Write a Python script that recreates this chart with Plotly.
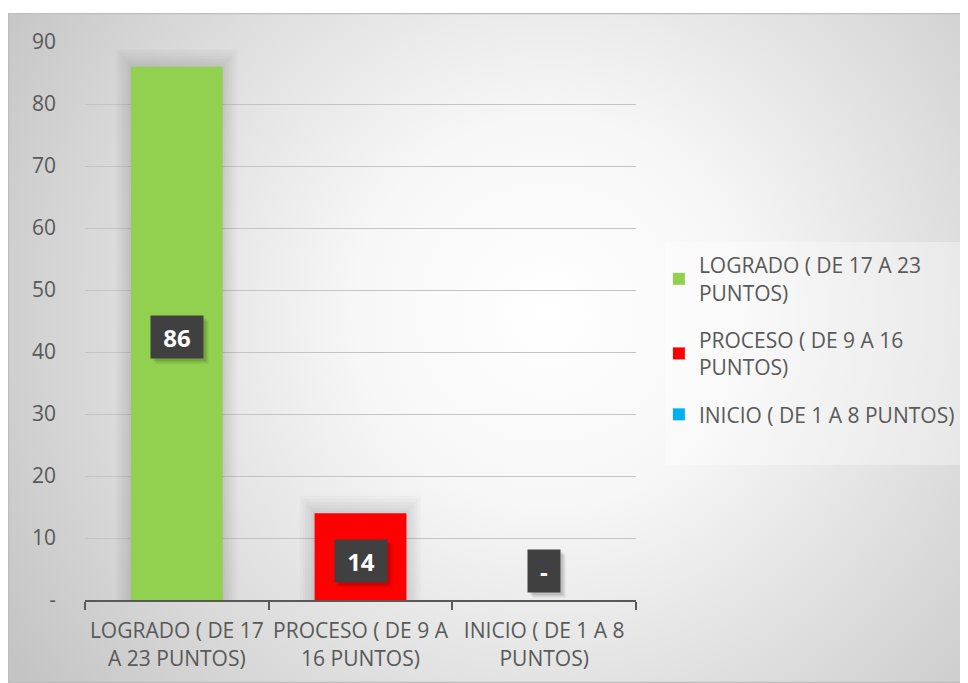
import base64
import plotly.graph_objects as go

# Datos del grafico
categorias = ['LOGRADO ( DE 17<br>A 23 PUNTOS)', 'PROCESO ( DE 9 A<br>16 PUNTOS)', 'INICIO ( DE 1 A 8<br>PUNTOS)']
leyenda = ['LOGRADO ( DE 17 A 23<br>PUNTOS)', 'PROCESO ( DE 9 A 16<br>PUNTOS)', 'INICIO ( DE 1 A 8 PUNTOS)']
valores = [86, 14, 0]
colores = ['#92D050', '#FF0000', '#00B0F0']
y_ticks = [0, 10, 20, 30, 40, 50, 60, 70, 80, 90]
y_ticktext = ['-', '10', '20', '30', '40', '50', '60', '70', '80', '90']

FONT = 'Open Sans'
GRIS = '#595959'

# Fondo con degradado radial (SVG embebido)
svg = (
    '<svg xmlns="http://www.w3.org/2000/svg" width="960" height="670" '
    'viewBox="0 0 960 670" preserveAspectRatio="none">'
    '<defs><radialGradient id="g" gradientUnits="userSpaceOnUse" cx="540" cy="300" r="640">'
    '<stop offset="0" stop-color="#ffffff"/>'
    '<stop offset="0.3" stop-color="#f7f7f7"/>'
    '<stop offset="1" stop-color="#c4c4c4"/>'
    '</radialGradient></defs>'
    '<rect x="0" y="0" width="960" height="670" fill="url(#g)"/>'
    '<rect x="0.5" y="0.5" width="959" height="669" fill="none" stroke="#bdbdbd" stroke-width="1.5"/>'
    '</svg>'
)
svg_uri = 'data:image/svg+xml;base64,' + base64.b64encode(svg.encode()).decode()

fig = go.Figure()

# Sombra suave detras de las barras
capas = [(0.66, 2.8), (0.63, 2.3), (0.60, 1.8), (0.57, 1.3), (0.54, 0.8), (0.52, 0.4)]
for cat, val in zip(categorias, valores):
    if val > 0:
        for w, extra in capas:
            fig.add_trace(go.Bar(
                x=[cat], y=[val + extra], width=w,
                marker=dict(color='rgba(0,0,0,0.02)', line=dict(width=0)),
                showlegend=False, hoverinfo='skip'
            ))

# Barras
for i, (cat, nom, val, col) in enumerate(zip(categorias, leyenda, valores, colores)):
    fig.add_trace(go.Bar(
        x=[cat], y=[val], name=nom, width=0.5, legendgroup=f'g{i}',
        marker=dict(color=col, line=dict(width=0))
    ))

# Etiquetas de datos
for cat, val in zip(categorias, valores):
    txt = '-' if val == 0 else str(val)
    ancho = 30 if val == 0 else 50
    if val == 0:
        pos = dict(y=0, yanchor='bottom', yshift=7)
    else:
        pos = dict(y=val / 2, yanchor='middle', yshift=-4)
    # sombra de la etiqueta
    for dx, a in [(5, 0.08), (3, 0.12)]:
        fig.add_annotation(
            x=cat, text=' ', showarrow=False, width=ancho, height=40,
            bgcolor=f'rgba(0,0,0,{a})', xshift=dx,
            **{**pos, 'yshift': pos['yshift'] - dx}
        )
    fig.add_annotation(
        x=cat, text=f'<b>{txt}</b>', showarrow=False, width=ancho, height=40,
        bgcolor='#404040', font=dict(family=FONT, size=24, color='white'), **pos
    )

# Fondo del cuadro de leyenda
fig.add_shape(type='rect', xref='paper', yref='paper',
              x0=1.0526, x1=1.597, y0=0.2419, y1=0.6416,
              fillcolor='rgba(255,255,255,0.35)', line=dict(width=0), layer='below')

fig.add_layout_image(dict(
    source=svg_uri, xref='paper', yref='paper',
    x=-0.13975, y=1.052, sizex=1.7423, sizey=1.2007,
    xanchor='left', yanchor='top', sizing='stretch', layer='below'
))

fig.update_layout(
    width=960, height=675,
    margin=dict(l=77, r=332, t=34, b=83),
    paper_bgcolor='white', plot_bgcolor='rgba(0,0,0,0)',
    barmode='overlay', bargap=0.5,
    font=dict(family=FONT, size=21, color=GRIS),
    showlegend=True,
    legend=dict(
        xref='container', yref='container',
        x=0.678, y=0.6489, xanchor='left', yanchor='top',
        bgcolor='rgba(0,0,0,0)', font=dict(family=FONT, size=21, color=GRIS),
        tracegroupgap=17, itemwidth=30
    ),
    xaxis=dict(
        showgrid=False, showline=True, linecolor=GRIS, linewidth=2,
        ticks='outside', tickson='boundaries', ticklen=8, tickwidth=2, tickcolor=GRIS,
        ticklabelstandoff=11, tickangle=0, automargin=False,
        tickfont=dict(family=FONT, size=21, color=GRIS)
    ),
    yaxis=dict(
        range=[0, 90], tickvals=y_ticks, ticktext=y_ticktext,
        showgrid=True, gridcolor='#c4c4c4', gridwidth=1, zeroline=False,
        showline=False, ticklabelstandoff=28, automargin=False,
        tickfont=dict(family=FONT, size=21, color=GRIS)
    )
)

fig.write_html('out.html')
